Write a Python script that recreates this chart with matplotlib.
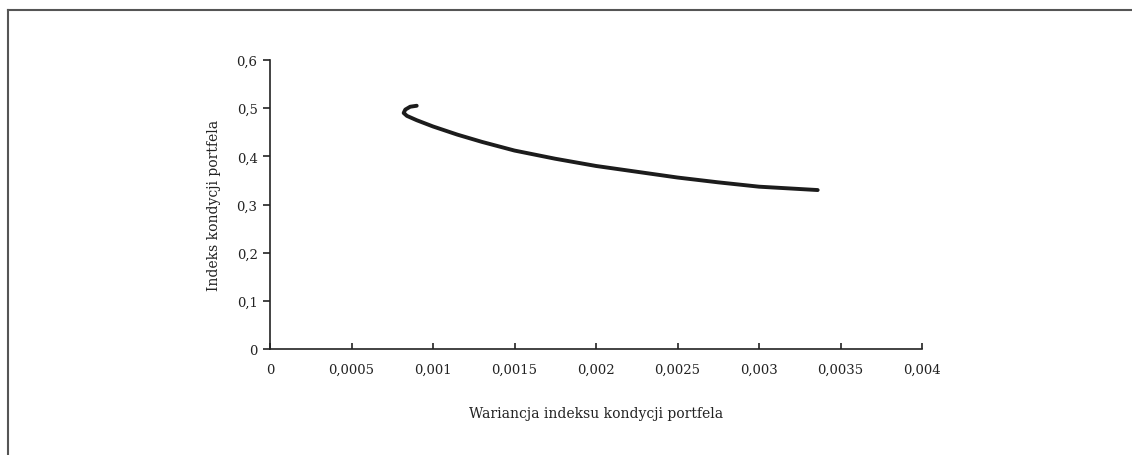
#!/usr/bin/env python3
"""Indeks kondycji portfela vs. jego wariancja."""

import matplotlib

matplotlib.use("Agg")
import matplotlib.pyplot as plt
from matplotlib.lines import Line2D

# curve (variance, index)
variance = [0.00090, 0.00086, 0.00083, 0.00082, 0.00084, 0.00090, 0.00100,
            0.00115, 0.00130, 0.00150, 0.00175, 0.00200, 0.00225, 0.00250,
            0.00275, 0.00300, 0.00336]
index = [0.505, 0.503, 0.497, 0.490, 0.484, 0.475, 0.462,
         0.445, 0.430, 0.412, 0.395, 0.380, 0.368, 0.356,
         0.346, 0.337, 0.330]

x_ticks = [0, 0.0005, 0.001, 0.0015, 0.002, 0.0025, 0.003, 0.0035, 0.004]
x_labels = ["0", "0,0005", "0,001", "0,0015", "0,002", "0,0025", "0,003", "0,0035", "0,004"]
y_ticks = [0, 0.1, 0.2, 0.3, 0.4, 0.5, 0.6]
y_labels = ["0", "0,1", "0,2", "0,3", "0,4", "0,5", "0,6"]

plt.rcParams["font.family"] = ["DejaVu Serif"]

W, H = 1132, 456
fig = plt.figure(figsize=(W / 100, H / 100), dpi=100)
ax = fig.add_axes([270 / W, 1 - 350 / H, (922 - 270) / W, (350 - 61) / H])

ax.plot(variance, index, color="#1c1c1c", linewidth=2.8, solid_capstyle="round")

ax.set_xlim(0, 0.004)
ax.set_ylim(0, 0.6)
ax.set_xticks(x_ticks)
ax.set_xticklabels(x_labels)
ax.set_yticks(y_ticks)
ax.set_yticklabels(y_labels)
ax.tick_params(axis="x", direction="in", length=4, width=1.2, labelsize=9.5, pad=10, colors="#222222")
ax.tick_params(axis="y", direction="out", length=5, width=1.2, labelsize=9.5, pad=4, colors="#222222")
for side in ("top", "right"):
    ax.spines[side].set_visible(False)
for side in ("left", "bottom"):
    ax.spines[side].set_linewidth(1.2)
    ax.spines[side].set_color("#222222")

ax.set_xlabel("Wariancja indeksu kondycji portfela", fontsize=10, labelpad=22, color="#222222")
ax.set_ylabel("Indeks kondycji portfela", fontsize=10, labelpad=11, color="#222222")

# frame around the chart area (right and bottom edges fall outside the picture)
fig.add_artist(Line2D([7.5 / W, 1.0], [1 - 10.5 / H, 1 - 10.5 / H], color="#555555", linewidth=1.5))
fig.add_artist(Line2D([7.5 / W, 7.5 / W], [0.0, 1 - 10.5 / H], color="#555555", linewidth=1.5))

fig.savefig("out.png", dpi=100)
plt.close(fig)
